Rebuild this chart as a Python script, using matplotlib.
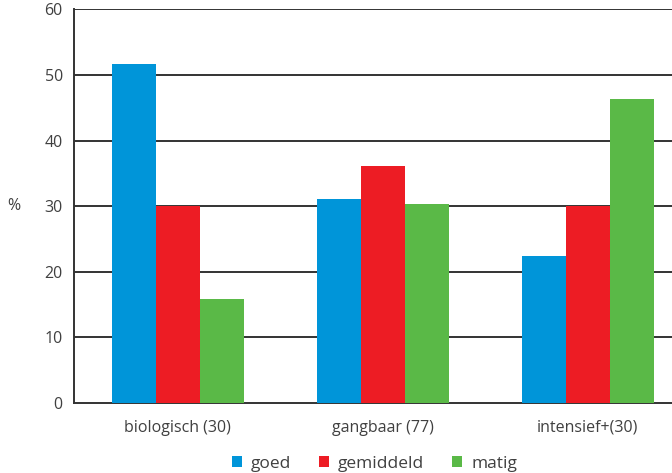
import matplotlib.pyplot as plt
import numpy as np

plt.rcParams['font.family'] = ['Open Sans', 'DejaVu Sans']

categories = ['biologisch (30)', 'gangbaar (77)', 'intensief+(30)']
series_names = ['goed', 'gemiddeld', 'matig']
goed = [51.7, 31.1, 22.4]
gemiddeld = [30.0, 36.2, 30.0]
matig = [15.8, 30.4, 46.3]
colors = ['#0095d9', '#ed1c24', '#5ab947']
y_ticks = [0, 10, 20, 30, 40, 50, 60]

text_color = '#404040'

fig = plt.figure(figsize=(6.72, 4.73), dpi=100)
ax = fig.add_axes([0.110, 0.148, 0.890, 0.832])

x = np.arange(len(categories))
width = 0.215
for i, (vals, name) in enumerate(zip([goed, gemiddeld, matig], series_names)):
    ax.bar(x + (i - 1) * width, vals, width, color=colors[i], label=name, zorder=3)

ax.set_ylim(0, 60)
ax.set_xlim(-0.507, 2.41)
ax.set_yticks(y_ticks)
ax.set_xticks(x)
ax.set_xticklabels(categories)
for y in y_ticks[1:]:
    ax.axhline(y, color='#333333', lw=1.4, zorder=2)

for side in ['top', 'right']:
    ax.spines[side].set_visible(False)
for side in ['left', 'bottom']:
    ax.spines[side].set_color('#333333')
    ax.spines[side].set_linewidth(1.4)
ax.tick_params(length=0, labelsize=11.5, colors=text_color, pad=8)
ax.tick_params(axis='x', pad=12)

ax.set_ylabel('%', rotation=0, fontsize=11.5, color=text_color, labelpad=22, va='center')

fig.legend(loc='lower center', bbox_to_anchor=(0.557, -0.03), ncol=3, frameon=False,
           fontsize=12.5, handlelength=0.6, handleheight=0.6, handletextpad=0.5,
           columnspacing=1.6, labelcolor=text_color)

fig.savefig('out.png', dpi=100)
